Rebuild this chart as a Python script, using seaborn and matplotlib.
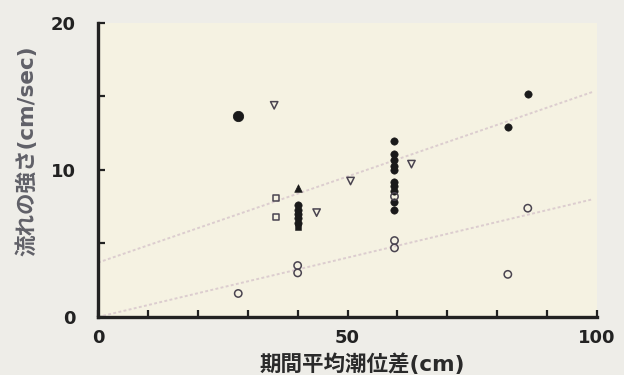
import matplotlib
matplotlib.use("Agg")
import matplotlib.pyplot as plt
import seaborn as sns

# Observations: mean tidal range (cm) vs. current strength (cm/sec)
big_dot_x = [28.1]
big_dot_y = [13.7]

dot_x = [40.0, 40.0, 40.0, 40.0, 40.0,
         59.4, 59.4, 59.4, 59.4, 59.4, 59.4, 59.4, 59.4, 59.4, 59.4,
         82.1, 86.1]
dot_y = [7.6, 7.3, 7.0, 6.7, 6.4,
         12.0, 11.1, 10.7, 10.3, 10.0, 9.2, 8.9, 8.6, 7.8, 7.3,
         12.9, 15.2]

tri_x = [40.0]
tri_y = [8.8]

sq_fill_x = [40.0]
sq_fill_y = [6.1]

open_tri_x = [35.3, 43.8, 50.6, 62.8]
open_tri_y = [14.4, 7.1, 9.25, 10.4]

open_sq_x = [35.7, 35.7]
open_sq_y = [8.1, 6.8]

open_dot_x = [28.1, 40.0, 40.0, 59.4, 59.4, 86.1, 82.1, 59.4]
open_dot_y = [1.6, 3.5, 3.0, 5.2, 4.7, 7.4, 2.9, 8.2]

# Fitted trend lines
fit_x = [0, 99]
upper_fit_y = [3.7, 15.3]
lower_fit_y = [0.0, 8.0]

x_ticks = [0, 10, 20, 30, 40, 50, 60, 70, 80, 90, 100]
x_tick_labels = ["0", "", "", "", "", "50", "", "", "", "", "100"]
y_ticks = [0, 5, 10, 15, 20]
y_tick_labels = ["0", "", "10", "", "20"]

sns.set_style("ticks")
plt.rcParams["font.family"] = ["DejaVu Sans", "Noto Sans CJK JP"]

fig = plt.figure(figsize=(6.24, 3.75), dpi=100, facecolor="#eeede8")
ax = fig.add_axes([0.157, 0.1547, 0.8, 0.784])
ax.set_facecolor("#f5f2e2")

line_kw = dict(color="#dccdcf", linewidth=1.4, linestyle=(0, (1.5, 1.2)))
sns.lineplot(x=fit_x, y=upper_fit_y, ax=ax, **line_kw)
sns.lineplot(x=fit_x, y=lower_fit_y, ax=ax, **line_kw)

ink = "#1a1a1a"
open_ink = "#4a4450"
sns.scatterplot(x=big_dot_x, y=big_dot_y, ax=ax, marker="o", s=55,
                color=ink, edgecolor=ink, zorder=3)
sns.scatterplot(x=dot_x, y=dot_y, ax=ax, marker="o", s=28,
                color=ink, edgecolor=ink, zorder=3)
sns.scatterplot(x=tri_x, y=tri_y, ax=ax, marker="^", s=30,
                color=ink, edgecolor=ink, zorder=3)
sns.scatterplot(x=sq_fill_x, y=sq_fill_y, ax=ax, marker="s", s=22,
                color=ink, edgecolor=ink, zorder=3)
sns.scatterplot(x=open_tri_x, y=open_tri_y, ax=ax, marker="v", s=28,
                facecolor="none", edgecolor=open_ink, linewidth=1.1, zorder=3)
sns.scatterplot(x=open_sq_x, y=open_sq_y, ax=ax, marker="s", s=20,
                facecolor="none", edgecolor=open_ink, linewidth=1.1, zorder=3)
sns.scatterplot(x=open_dot_x, y=open_dot_y, ax=ax, marker="o", s=28,
                facecolor="none", edgecolor=open_ink, linewidth=1.1, zorder=3)

ax.set_xlim(0, 100)
ax.set_ylim(0, 20)
ax.set_xticks(x_ticks)
ax.set_xticklabels(x_tick_labels)
ax.set_yticks(y_ticks)
ax.set_yticklabels(y_tick_labels)
ax.tick_params(direction="in", length=5, width=1.6, color="#222222",
               labelsize=13, labelcolor="#222222")
ax.tick_params(axis="y", pad=16)
ax.tick_params(axis="x", pad=9)
for lab in ax.get_xticklabels() + ax.get_yticklabels():
    lab.set_fontweight("bold")

sns.despine(ax=ax)
for side in ("left", "bottom"):
    ax.spines[side].set_linewidth(2.4)
    ax.spines[side].set_color("#222222")

ax.set_xlabel("期間平均潮位差(cm)", fontsize=15.5, fontweight="bold",
              color="#2a2a2a")
ax.xaxis.set_label_coords(0.53, -0.125)
ax.set_ylabel("流れの強さ(cm/sec)", fontsize=15.5, fontweight="bold",
              color="#606068")
ax.yaxis.set_label_coords(-0.122, 0.565)

fig.savefig("out.png", dpi=100, facecolor=fig.get_facecolor())
